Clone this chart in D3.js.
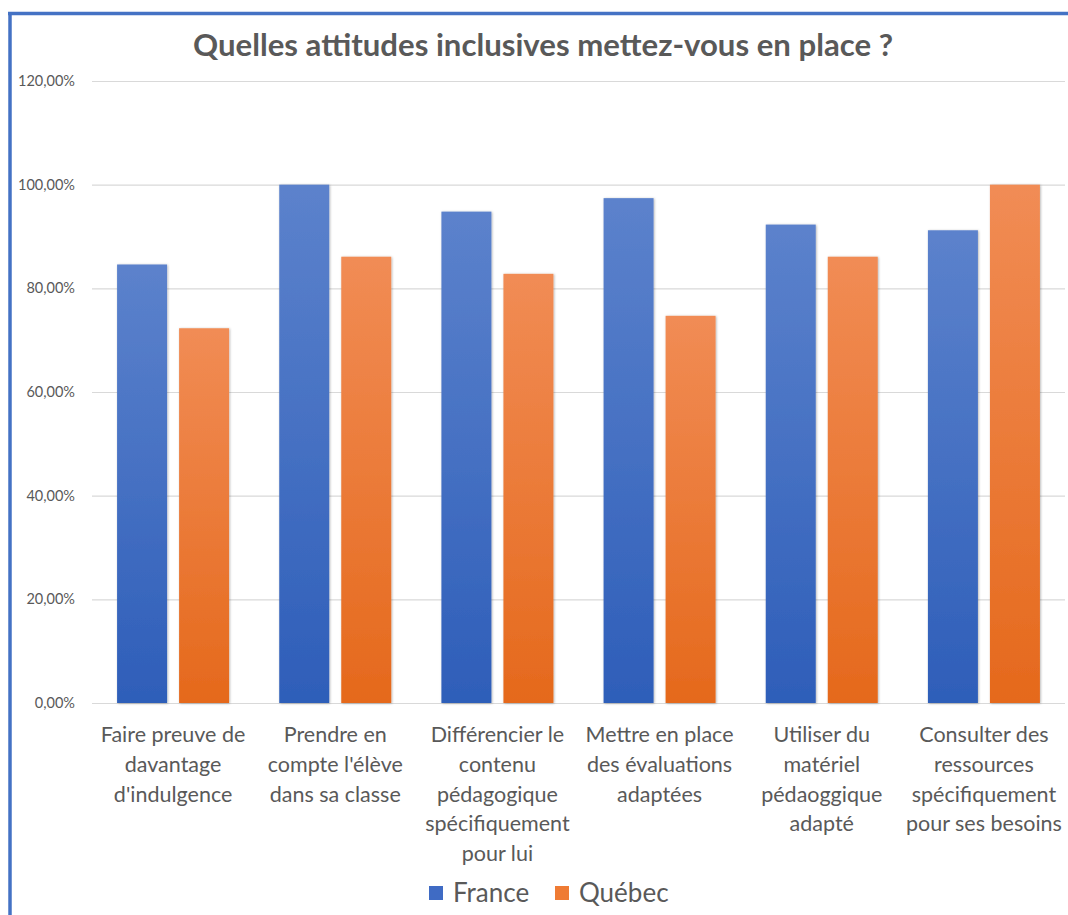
<!DOCTYPE html>
<html><head><meta charset="utf-8">
<script src="https://cdn.jsdelivr.net/npm/d3@7"></script>
<style>body{margin:0;background:#fff;} svg{display:block;}</style>
</head><body>
<svg id="chart" width="1068" height="915"></svg>
<script>
const categories = [
  ["Faire preuve de","davantage","d'indulgence"],
  ["Prendre en","compte l'élève","dans sa classe"],
  ["Différencier le","contenu","pédagogique","spécifiquement","pour lui"],
  ["Mettre en place","des évaluations","adaptées"],
  ["Utiliser du","matériel","pédaoggique","adapté"],
  ["Consulter des","ressources","spécifiquement","pour ses besoins"]
];
const seriesNames = ["France","Québec"];
const france = [84.6, 100, 94.8, 97.4, 92.3, 91.2];
const quebec = [72.3, 86.1, 82.8, 74.7, 86.1, 100];
const yTicks = [0,20,40,60,80,100,120];
const title = "Quelles attitudes inclusives mettez-vous en place ?";

const svg = d3.select("#chart");
const W = 1068, H = 915;
const m = {left:92, right:3, top:81, bottom:212};
const x0 = d3.scaleBand().domain(d3.range(categories.length)).range([m.left, W-m.right]).paddingInner(0).paddingOuter(0);
const bw = x0.bandwidth();
const x1 = d3.scaleBand().domain(seriesNames).range([bw/2-56, bw/2+56]).paddingInner(0.194).paddingOuter(0);
const y = d3.scaleLinear().domain([0,120]).range([H-m.bottom, m.top]);

const defs = svg.append("defs");
const grads = {France:["#5C82CC","#2E5EB9"], "Québec":["#F18C55","#E5691C"]};
const colors = {France:"#3F6BC4","Québec":"#EF7B34"};
Object.entries(grads).forEach(([k,c],i)=>{
  const g = defs.append("linearGradient").attr("id","g"+i).attr("x1",0).attr("x2",0).attr("y1",0).attr("y2",1);
  g.append("stop").attr("offset","0%").attr("stop-color",c[0]);
  g.append("stop").attr("offset","100%").attr("stop-color",c[1]);
});
const f = defs.append("filter").attr("id","sh").attr("x","-10%").attr("y","-5%").attr("width","130%").attr("height","115%");
f.append("feDropShadow").attr("dx",0.8).attr("dy",0.5).attr("stdDeviation",1).attr("flood-color","#000").attr("flood-opacity",0.3);

// border
svg.append("line").attr("x1",10).attr("x2",10).attr("y1",13).attr("y2",H).attr("stroke","#4472C4").attr("stroke-width",3.5);
svg.append("line").attr("x1",8).attr("x2",W).attr("y1",13.5).attr("y2",13.5).attr("stroke","#4472C4").attr("stroke-width",3.5);

// title
svg.append("text").attr("x",543).attr("y",56).attr("text-anchor","middle")
  .attr("font-family","Lato").attr("font-weight","bold").attr("font-size",30).attr("fill","#595959")
  .attr("textLength",700).attr("lengthAdjust","spacingAndGlyphs").text(title);

// y axis gridlines
const yAxis = d3.axisLeft(y).tickValues(yTicks).tickSize(-(W-m.right-m.left)).tickPadding(17)
  .tickFormat(d=>d3.format(".2f")(d).replace(".",",")+"%");
const ga = svg.append("g").attr("transform",`translate(${m.left},0)`).call(yAxis);
ga.select(".domain").remove();
ga.selectAll(".tick line").attr("stroke","#D9D9D9").attr("stroke-width",1.2);
ga.selectAll(".tick text").attr("font-family","Lato").attr("font-size",14.5).attr("fill","#595959");

// bars
const data = categories.map((c,i)=>({i, vals:[{k:"France",v:france[i]},{k:"Québec",v:quebec[i]}]}));
const gc = svg.append("g").selectAll("g").data(data).join("g").attr("transform",d=>`translate(${x0(d.i)},0)`);
gc.selectAll("rect").data(d=>d.vals).join("rect")
  .attr("x",d=>x1(d.k)).attr("width",x1.bandwidth())
  .attr("y",d=>y(d.v)).attr("height",d=>y(0)-y(d.v))
  .attr("fill",(d,j)=>`url(#g${j})`).attr("filter","url(#sh)");

// x labels
const gx = svg.append("g");
categories.forEach((lines,i)=>{
  const cx = x0(i)+bw/2;
  const t = gx.append("text").attr("x",cx).attr("y",742)
    .attr("text-anchor","middle").attr("font-family","Lato").attr("font-size",21.5).attr("fill","#595959");
  lines.forEach((l,j)=>t.append("tspan").attr("x",cx).attr("dy",j?29.8:0).text(l));
});

// legend
const leg = [{k:"France",x:429},{k:"Québec",x:555}];
leg.forEach((d,j)=>{
  svg.append("rect").attr("x",d.x).attr("y",886).attr("width",14).attr("height",14).attr("fill",colors[d.k]);
  svg.append("text").attr("x",d.x+24).attr("y",902).attr("font-family","Lato").attr("font-size",26).attr("fill","#595959").text(d.k);
});
</script>
</body></html>
